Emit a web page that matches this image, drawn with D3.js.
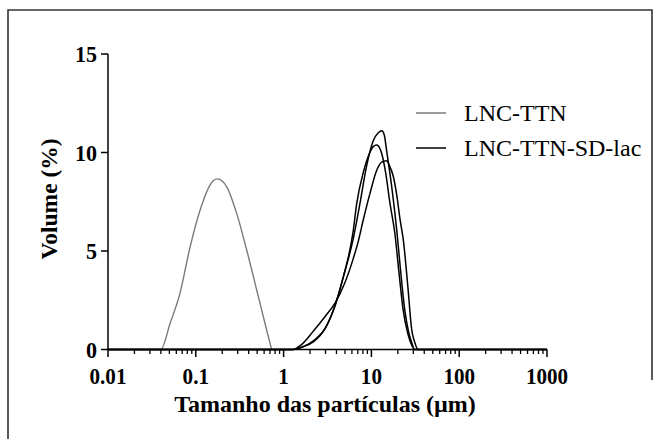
<!DOCTYPE html>
<html><head><meta charset="utf-8">
<script src="https://cdn.jsdelivr.net/npm/d3@7"></script>
<style>html,body{margin:0;padding:0;background:#fff;}svg{display:block;}</style>
</head><body>
<svg id="chart" width="659" height="439"></svg>
<script>
// ---- data ----
const xTickValues = [0.01, 0.1, 1, 10, 100, 1000];
const xTickLabels = ["0.01", "0.1", "1", "10", "100", "1000"];
const yTickValues = [0, 5, 10, 15];
const seriesNames = ["LNC-TTN", "LNC-TTN-SD-lac"];

const grayX = [0.01, 0.04, 0.051, 0.066, 0.086, 0.112, 0.145, 0.176, 0.225, 0.292, 0.38, 0.494, 0.641, 0.73];
const grayY = [0, 0, 1.33, 2.85, 5.2, 7.08, 8.35, 8.66, 8.26, 6.91, 5.05, 3.02, 0.99, 0];

const aX = [0.01, 1.27, 1.6, 2.2, 3.0, 3.9, 4.8, 6.2, 7.4, 8.8, 10.5, 12.0, 13.1, 14.0, 14.9, 17.0, 19.4, 21.5, 24.0, 26.5, 29.0, 31.0, 1000];
const aY = [0, 0, 0.1, 0.45, 1.1, 2.3, 3.7, 5.6, 7.4, 9.3, 10.6, 11.0, 11.1, 10.9, 10.1, 8.3, 6.1, 4.0, 2.0, 0.9, 0.3, 0, 0];

const bX = [0.01, 1.3, 1.6, 2.2, 3.0, 3.9, 4.8, 6.2, 6.8, 8.1, 9.6, 10.5, 11.5, 12.5, 13.1, 14.5, 16.3, 18.5, 20.5, 23.0, 26.0, 29.0, 31.0, 1000];
const bY = [0, 0, 0.12, 0.4, 1.1, 2.3, 3.7, 6.0, 7.4, 9.0, 10.0, 10.3, 10.38, 10.2, 9.95, 9.0, 7.4, 5.9, 4.0, 2.0, 0.8, 0.2, 0, 0];

const cX = [0.01, 1.27, 1.6, 2.2, 3.0, 3.85, 5.0, 6.2, 7.0, 8.1, 9.6, 11.5, 13.0, 14.9, 16.0, 17.8, 19.5, 21.2, 23.1, 26.0, 28.8, 31.0, 34.0, 1000];
const cY = [0, 0, 0.25, 0.95, 1.7, 2.35, 3.4, 4.6, 5.4, 6.6, 7.9, 9.1, 9.5, 9.58, 9.35, 8.77, 7.8, 6.6, 5.56, 3.2, 1.0, 0.4, 0, 0];

// ---- layout ----
const svg = d3.select("#chart");
const x = d3.scaleLog().domain([0.01, 1000]).range([108, 547]);
const y = d3.scaleLinear().domain([0, 15]).range([349.5, 54]);
const serif = "'Liberation Serif','Times New Roman',serif";

// frame
svg.append("path").attr("d", "M8,439 L8,10 L652,10 L652,380")
  .attr("fill", "none").attr("stroke", "#333").attr("stroke-width", 1.6);

const line = d3.line().x(d => x(d[0])).y(d => y(d[1])).curve(d3.curveMonotoneX);
const zip = (xs, ys) => xs.map((v, i) => [v, ys[i]]);

// axes
const minor = [];
for (let e = -2; e < 3; e++) for (let k = 2; k <= 9; k++) minor.push(k * Math.pow(10, e));

const gx = svg.append("g").attr("transform", `translate(0,${y(0)})`);
gx.append("line").attr("x1", x(0.01)).attr("x2", x(1000)).attr("stroke", "#000").attr("stroke-width", 1.5);
gx.selectAll(".mn").data(minor).join("line").attr("x1", d => x(d)).attr("x2", d => x(d))
  .attr("y1", 0).attr("y2", 4.5).attr("stroke", "#000").attr("stroke-width", 1.3);
gx.selectAll(".mj").data(xTickValues).join("line").attr("x1", d => x(d)).attr("x2", d => x(d))
  .attr("y1", 0).attr("y2", 7.5).attr("stroke", "#000").attr("stroke-width", 1.5);
gx.selectAll(".lb").data(xTickValues).join("text")
  .attr("transform", d => `translate(${x(d)},34) scale(0.88,1)`).attr("text-anchor", "middle")
  .attr("font-family", serif).attr("font-weight", "bold").attr("font-size", 24)
  .text((d, i) => xTickLabels[i]);

const gy = svg.append("g");
gy.append("line").attr("x1", x(0.01)).attr("x2", x(0.01)).attr("y1", y(0)).attr("y2", y(15))
  .attr("stroke", "#000").attr("stroke-width", 1.5);
gy.selectAll(".tk").data(yTickValues).join("line").attr("x1", x(0.01) - 7).attr("x2", x(0.01))
  .attr("y1", d => y(d)).attr("y2", d => y(d)).attr("stroke", "#000").attr("stroke-width", 1.5);
gy.selectAll(".lb").data(yTickValues).join("text")
  .attr("transform", d => `translate(97,${y(d) + 8}) scale(0.92,1)`).attr("text-anchor", "end")
  .attr("font-family", serif).attr("font-weight", "bold").attr("font-size", 24)
  .text(d => d);

// titles
svg.append("text").attr("x", 325).attr("y", 412).attr("text-anchor", "middle")
  .attr("font-family", serif).attr("font-weight", "bold").attr("font-size", 24)
  .text("Tamanho das partículas (µm)");
svg.append("text").attr("transform", "translate(57,199) rotate(-90)").attr("text-anchor", "middle")
  .attr("font-family", serif).attr("font-weight", "bold").attr("font-size", 23.5)
  .text("Volume (%)");

// curves
svg.append("path").datum(zip(grayX, grayY)).attr("d", line)
  .attr("fill", "none").attr("stroke", "#7a7a7a").attr("stroke-width", 1.4);
[[aX, aY], [bX, bY], [cX, cY]].forEach(([xs, ys]) => {
  svg.append("path").datum(zip(xs, ys)).attr("d", line)
    .attr("fill", "none").attr("stroke", "#000").attr("stroke-width", 1.5);
});

// legend
const legY = [113, 148];
const legC = ["#7a7a7a", "#000"];
seriesNames.forEach((n, i) => {
  svg.append("line").attr("x1", 416).attr("x2", 446).attr("y1", legY[i]).attr("y2", legY[i])
    .attr("stroke", legC[i]).attr("stroke-width", 1.5);
  svg.append("text").attr("x", 464).attr("y", legY[i] + 8)
    .attr("font-family", serif).attr("font-size", 24).attr("fill", "#000").text(n);
});
</script>
</body></html>
